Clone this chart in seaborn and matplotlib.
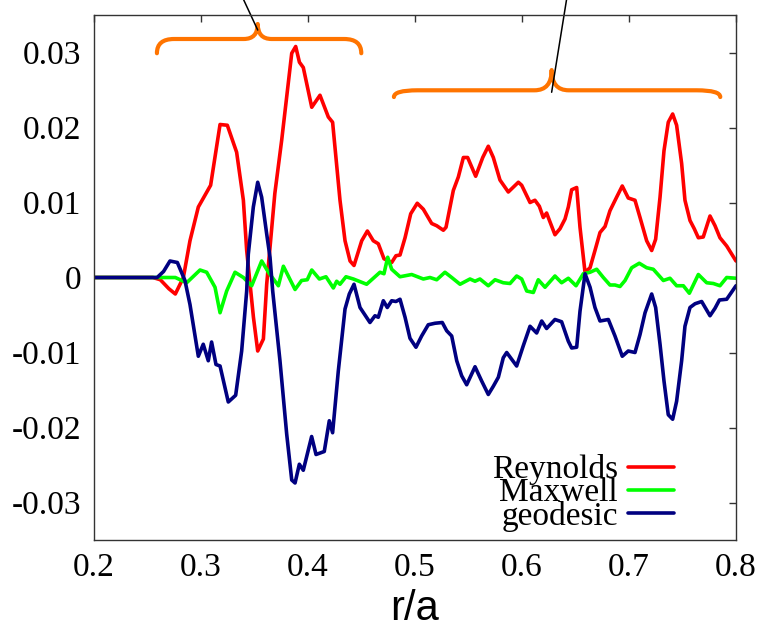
import numpy as np
import pandas as pd
import matplotlib
matplotlib.use("Agg")
import matplotlib.pyplot as plt
from matplotlib.path import Path
from matplotlib.patches import PathPatch
import seaborn as sns

# ---------------- data ----------------
rey_x = [0.200, 0.255, 0.262, 0.270, 0.276, 0.2835, 0.2897, 0.2975, 0.309, 0.3178, 0.3246, 0.3333,
         0.3396, 0.3427, 0.349, 0.353, 0.3583, 0.3614, 0.369, 0.3754, 0.3848, 0.3885, 0.392, 0.3956,
         0.4035, 0.4112, 0.419, 0.423, 0.4299, 0.4346, 0.4393, 0.443, 0.4502, 0.4555, 0.461, 0.4657,
         0.471, 0.4782, 0.4822, 0.486, 0.4907, 0.496, 0.5021, 0.5078, 0.5156, 0.5203, 0.5265, 0.529,
         0.5358, 0.5405, 0.5452, 0.5492, 0.5567, 0.5633, 0.5685, 0.5732, 0.5794, 0.5872, 0.5966, 0.5997,
         0.6075, 0.6121, 0.6162, 0.6199, 0.623, 0.6262, 0.6308, 0.6355, 0.6402, 0.6433, 0.6464, 0.6511,
         0.6542, 0.6589, 0.6636, 0.6682, 0.6729, 0.6776, 0.6822, 0.6884, 0.6937, 0.6993, 0.7056, 0.7103,
         0.7165, 0.7212, 0.7249, 0.729, 0.7327, 0.7367, 0.7408, 0.7445, 0.7492, 0.7523, 0.757, 0.761,
         0.7648, 0.7694, 0.7757, 0.7804, 0.785, 0.7913, 0.800]
rey_y = [0.0, 0.0, -0.0003, -0.0015, -0.0022, 0.0, 0.0049, 0.0094, 0.0123, 0.0204, 0.0203, 0.0167,
         0.0103, 0.0036, -0.0053, -0.0098, -0.0082, -0.0009, 0.0112, 0.0183, 0.0299, 0.0308, 0.0287, 0.0280,
         0.0227, 0.0243, 0.0214, 0.0207, 0.0103, 0.0049, 0.0022, 0.0016, 0.0049, 0.0062, 0.0049, 0.0045,
         0.0025, 0.0020, 0.0029, 0.0030, 0.0053, 0.0085, 0.0099, 0.0091, 0.0072, 0.0069, 0.0063, 0.0067,
         0.0116, 0.0134, 0.0160, 0.0160, 0.0135, 0.0160, 0.0175, 0.0160, 0.0130, 0.0114, 0.0127, 0.0123,
         0.0100, 0.0103, 0.0095, 0.0080, 0.0086, 0.0074, 0.0057, 0.0065, 0.0078, 0.0094, 0.0117, 0.0120,
         0.0067, 0.0007, 0.0013, 0.0036, 0.0060, 0.0068, 0.0089, 0.0107, 0.0122, 0.0106, 0.0103, 0.0080,
         0.0049, 0.0036, 0.0051, 0.0107, 0.0169, 0.0207, 0.0218, 0.0203, 0.0152, 0.0103, 0.0076, 0.0065,
         0.0053, 0.0054, 0.0082, 0.0069, 0.0053, 0.0042, 0.0022]

max_x = [0.200, 0.265, 0.276, 0.2866, 0.2991, 0.3053, 0.3131, 0.3178, 0.324, 0.3318, 0.3396, 0.3474,
         0.3567, 0.363, 0.3723, 0.377, 0.3879, 0.394, 0.3993, 0.4035, 0.4106, 0.4168, 0.4237, 0.4268,
         0.4299, 0.4355, 0.4424, 0.4548, 0.4673, 0.471, 0.4745, 0.4782, 0.486, 0.4969, 0.5078, 0.514,
         0.5203, 0.528, 0.5343, 0.5421, 0.5514, 0.5561, 0.5607, 0.5685, 0.5748, 0.5825, 0.5888, 0.595,
         0.5997, 0.6044, 0.6106, 0.6152, 0.6215, 0.6308, 0.637, 0.6433, 0.6505, 0.6573, 0.6636, 0.6698,
         0.676, 0.6822, 0.6869, 0.6916, 0.6963, 0.7025, 0.7096, 0.7165, 0.7227, 0.7321, 0.7383, 0.7445,
         0.7508, 0.7564, 0.7648, 0.7726, 0.7788, 0.785, 0.7913, 0.800]
max_y = [0.0, 0.0, 0.0, -0.0007, 0.0010, 0.0007, -0.0013, -0.0047, -0.0018, 0.0007, 0.0, -0.0011,
         0.0022, 0.0007, -0.0011, 0.0015, -0.0016, -0.0004, -0.0003, 0.0010, -0.0002, 0.0001, -0.0014, -0.0005,
         -0.0009, 0.0001, -0.0002, -0.0009, 0.0007, 0.0005, 0.0027, 0.0011, 0.0001, 0.0004, -0.0002, 0.0,
         -0.0003, 0.0007, 0.0, -0.0009, -0.0002, -0.0005, -0.0002, -0.0011, -0.0003, -0.0007, -0.0008, 0.0002,
         -0.0002, -0.0018, -0.0020, -0.0003, -0.0013, 0.0002, -0.0007, -0.0001, -0.0011, 0.0005, 0.0007, 0.0011,
         0.0, -0.0010, -0.0010, -0.0012, -0.0004, 0.0013, 0.0019, 0.0013, 0.0011, -0.0004, -0.0001, -0.0011,
         -0.0011, -0.0021, 0.0004, -0.0007, -0.0008, -0.0011, 0.0, -0.0001]

geo_x = [0.200, 0.259, 0.265, 0.271, 0.2779, 0.285, 0.2897, 0.2975, 0.3021, 0.3068, 0.3099, 0.314,
         0.3178, 0.3255, 0.3324, 0.338, 0.3427, 0.3442, 0.3489, 0.353, 0.3567, 0.3614, 0.3645, 0.367,
         0.3738, 0.3801, 0.3848, 0.3879, 0.3919, 0.3956, 0.4034, 0.4075, 0.4152, 0.4199, 0.423, 0.4283,
         0.4346, 0.4386, 0.443, 0.4486, 0.4579, 0.4626, 0.4657, 0.4704, 0.4741, 0.4782, 0.4822, 0.486,
         0.4907, 0.4953, 0.5009, 0.5062, 0.5124, 0.5187, 0.5255, 0.5296, 0.5343, 0.539, 0.5436, 0.5483,
         0.5561, 0.5623, 0.5685, 0.5732, 0.5779, 0.5825, 0.5857, 0.595, 0.6012, 0.6075, 0.6137, 0.6184,
         0.623, 0.6308, 0.637, 0.6433, 0.6464, 0.6511, 0.6542, 0.6589, 0.6636, 0.6682, 0.6729, 0.6807,
         0.6869, 0.6937, 0.6993, 0.7056, 0.7103, 0.715, 0.7212, 0.7249, 0.729, 0.7327, 0.7367, 0.7408,
         0.7445, 0.7492, 0.7523, 0.757, 0.7617, 0.7679, 0.7757, 0.7804, 0.7845, 0.7913, 0.800]
geo_y = [0.0, 0.0, 0.0008, 0.0022, 0.0020, -0.0004, -0.0036, -0.0105, -0.0089, -0.0111, -0.0086, -0.0116,
         -0.0118, -0.0166, -0.0157, -0.0098, -0.0018, 0.0031, 0.0094, 0.0127, 0.0107, 0.0058, 0.0027, -0.0018,
         -0.0111, -0.0209, -0.0270, -0.0274, -0.0249, -0.0257, -0.0212, -0.0236, -0.0232, -0.0191, -0.0207, -0.0125,
         -0.0042, -0.0022, -0.0009, -0.0040, -0.0060, -0.0051, -0.0053, -0.0031, -0.0040, -0.0031, -0.0032, -0.0029,
         -0.0053, -0.0081, -0.0093, -0.0078, -0.0063, -0.0061, -0.0060, -0.0071, -0.0078, -0.0111, -0.0131, -0.0143,
         -0.0119, -0.0138, -0.0156, -0.0145, -0.0133, -0.0107, -0.0100, -0.0118, -0.0091, -0.0065, -0.0074, -0.0058,
         -0.0068, -0.0056, -0.0059, -0.0085, -0.0094, -0.0093, -0.0045, 0.0005, -0.0013, -0.0040, -0.0058, -0.0056,
         -0.0078, -0.0105, -0.0098, -0.0100, -0.0076, -0.0047, -0.0022, -0.0040, -0.0089, -0.0138, -0.0183, -0.0189,
         -0.0165, -0.0111, -0.0065, -0.0040, -0.0035, -0.0032, -0.0051, -0.0041, -0.0030, -0.0029, -0.0011]

series_names = ["Reynolds", "Maxwell", "geodesic"]
series_colors = ["#ff0000", "#00ff00", "#000080"]

x_ticks = [0.2, 0.3, 0.4, 0.5, 0.6, 0.7, 0.8]
x_tick_labels = ["0.2", "0.3", "0.4", "0.5", "0.6", "0.7", "0.8"]
y_ticks = [-0.03, -0.02, -0.01, 0.0, 0.01, 0.02, 0.03]
y_tick_labels = ["-0.03", "-0.02", "-0.01", "0", "0.01", "0.02", "0.03"]

# braces: (start, end, centre, level)
brace1 = (0.2588, 0.4498, 0.353, 0.0318)
brace2 = (0.4803, 0.7853, 0.6277, 0.02496)

# ---------------- figure ----------------
sns.set_style("white")
plt.rcParams["font.family"] = ["Liberation Serif", "DejaVu Serif"]
plt.rcParams["text.color"] = "black"
plt.rcParams["xtick.color"] = "black"
plt.rcParams["ytick.color"] = "black"

df = pd.concat([
    pd.DataFrame({"r": rey_x, "value": rey_y, "series": "Reynolds"}),
    pd.DataFrame({"r": max_x, "value": max_y, "series": "Maxwell"}),
    pd.DataFrame({"r": geo_x, "value": geo_y, "series": "geodesic"}),
], ignore_index=True)

fig = plt.figure(figsize=(7.58, 6.29), dpi=100)
ax = fig.add_axes([94 / 758, 89 / 629, 642 / 758, 525 / 629])

sns.lineplot(data=df, x="r", y="value", hue="series", hue_order=series_names,
             palette=series_colors, estimator=None, sort=False, lw=2.6,
             legend=False, ax=ax)

ax.set_xlim(0.2, 0.8)
ax.set_ylim(-0.035, 0.035)
ax.set_xticks(x_ticks)
ax.set_xticklabels(x_tick_labels)
ax.set_yticks(y_ticks)
ax.set_yticklabels(y_tick_labels)
ax.tick_params(direction="in", length=5, width=1, top=True, right=True,
               labelsize=24, pad=9, color="#333333", labelcolor="black")
for s in ax.spines.values():
    s.set_linewidth(1.0)
    s.set_color("#333333")
ax.set_ylabel("")
ax.set_xlabel("r/a", fontsize=30, color="black", family=["Liberation Sans", "DejaVu Sans"])
ax.xaxis.set_label_coords(0.5, -0.094)


def draw_brace(ax, b, hook_w, hook_h, cusp_w, cusp_h):
    x0, x1, xc, yh = b
    verts = [(x0, yh - hook_h), (x0, yh), (x0 + hook_w, yh),
             (xc - cusp_w, yh), (xc, yh), (xc, yh + cusp_h),
             (xc, yh), (xc + cusp_w, yh),
             (x1 - hook_w, yh), (x1, yh), (x1, yh - hook_h)]
    codes = [Path.MOVETO, Path.CURVE3, Path.CURVE3,
             Path.LINETO, Path.CURVE3, Path.CURVE3,
             Path.CURVE3, Path.CURVE3,
             Path.LINETO, Path.CURVE3, Path.CURVE3]
    p = PathPatch(Path(verts, codes), fill=False, edgecolor="#ff7400", lw=3.0,
                  capstyle="round", joinstyle="round", clip_on=False)
    ax.add_patch(p)


draw_brace(ax, brace1, 0.016, 0.0019, 0.013, 0.0020)
draw_brace(ax, brace2, 0.022, 0.0009, 0.016, 0.0027)

ax.plot([0.353, 0.3393], [0.0330, 0.0372], color="black", lw=1.1, clip_on=False)
ax.plot([0.6277, 0.6418], [0.0247, 0.0372], color="black", lw=1.1, clip_on=False)

handles = ax.get_lines()[:3]
leg = ax.legend(handles, series_names, loc="lower right", bbox_to_anchor=(0.904, 0.015),
                frameon=False, markerfirst=False, fontsize=24, handlelength=1.4,
                handletextpad=0.3, labelspacing=-0.22, borderpad=0, borderaxespad=0)
for t in leg.get_texts():
    t.set_color("black")

fig.savefig("out.png", dpi=100)
